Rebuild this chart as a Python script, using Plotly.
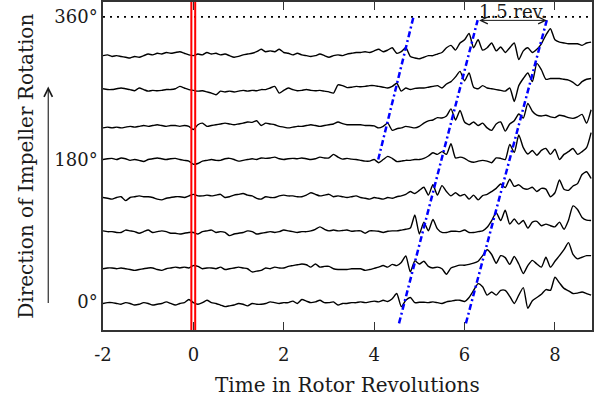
import plotly.graph_objects as go

# time axis in rotor revolutions (sampling grid of the digitised signals)
time = [-2.0, -1.9, -1.8, -1.7, -1.6, -1.5, -1.4, -1.3, -1.2, -1.1,
        -1.0, -0.9, -0.8, -0.7, -0.6, -0.5, -0.4, -0.3, -0.2, -0.1,
        0.0, 0.1, 0.2, 0.3, 0.4, 0.5, 0.6, 0.7, 0.8, 0.9,
        1.0, 1.1, 1.2, 1.3, 1.4, 1.5, 1.6, 1.7, 1.8, 1.9,
        2.0, 2.1, 2.2, 2.3, 2.4, 2.5, 2.6, 2.7, 2.8, 2.9,
        3.0, 3.1, 3.2, 3.3, 3.4, 3.5, 3.6, 3.7, 3.8, 3.9,
        4.0, 4.1, 4.2, 4.3, 4.4, 4.5, 4.6, 4.7, 4.8, 4.9,
        5.0, 5.1, 5.2, 5.3, 5.4, 5.5, 5.6, 5.7, 5.8, 5.9,
        6.0, 6.1, 6.2, 6.3, 6.4, 6.5, 6.6, 6.7, 6.8, 6.9,
        7.0, 7.1, 7.2, 7.3, 7.4, 7.5, 7.6, 7.7, 7.8, 7.9,
        8.0, 8.1, 8.2, 8.3, 8.4, 8.5, 8.6, 8.7, 8.8]

# circumferential sensor positions (deg) and the signal offset of each
sensor_angle = [0, 45, 90, 135, 180, 225, 270, 315]
dc_offset = [-1.6, -2.8, -1.0, -2.9, -1.0, -5.1, -0.7, -3.9]

# signal deviations (scaled to degrees)
sig_0 = [0, 1, 1, 0, -1, 1, 0, -2, -1, 1, 0, -2, -1, 0, 2, 0, -2, 0, 1, 5,
         1, -1, 1, 4, 1, 0, -2, -4, -3, -2, 0, -1, -3, 0, -1, -1, 0, 2, 1, 0,
         1, 1, 3, 0, 5, 3, 1, 2, 4, 1, 1, 2, -2,
         0, 0, 1, 1, 2, 1, 2, 3, 2, 4, 2.5, 6, 12.5, -4, 4, 7.5, 1, 1.5, 1.5, 1,
         2, 1, 0, 2, 3, 4, 4, 2.5, 7.5, 16.5, 25, 21, 10.5, 14.5, 10.5, 16.5, 16.5, 9, 0, 10.5,
         20, -6, 3.5, 7.5, 11.5, 17.5, 16.5, 33, 26, 19, 16, 12.5, 13, 14.5, 12.5, 10.5]
sig_45 = [0, 1, 1, 0, 1, 0, -1, -2, -1, 0, 1, 1, -1, -2, 0, 1, 2, 1, 2, 1,
          4, 3, 0, 1, 1, 0, 2, -1, 0, 1, 2, 1, 0, -4, -3, -2, 1, 0, 2, 1,
          1, 3, 4, 5, 6, 5, 2, 6, 2, 3, 3, 0, -1,
          -1, -1, 0, 0, 0, -2, -1, 0.5, 2, 4, 2, 5.5, 4, 8, 16, -4, 10, 6, 9.5, 3,
          1, 2, 0, -7, 1, 3, 4.5, 4.5, 5.5, 7, 9.5, 16.5, 24, 18, 7, 16.5, 14, 5.5, 15.5, 6,
          -6, 4, 10.5, 6, 2, 14.5, 2, 9.5, 16.5, 24, 33, 18, 12.5, 14.5, 16.5, 16.5]
sig_90 = [1, 0, 0, -1, -1, 2, 1, 0, -2, 0, 2, -1, 0, 1, 0, -2, -2, -3, -2, -1,
          -1, -3, 0, 1, 2, -1, 0, -1, -5, -3, -2, -1, 1, 0, -3, -2, -1, 0, -1, 0,
          2, 1, 0, -1, 0, 0, 1, 3, 6, 3, 1, 2, 1,
          1.5, 2, 0.5, 1, 1, -2, 1, 1, 0.5, -1, 0.5, 1, 1, 2, 3, 4.5, 21, -3, 12, 1,
          15.5, 3.5, -1, -1, 0.5, 0.5, 0, 2, -1, -1, 0, 1, 5.5, 14, 24, 14, 27, 9.5, 16, 9.5,
          14, 4.5, 12, 13, 7.5, 9.5, 7.5, 6, 12, 3, 14.5, 32.5, 28, 18, 14.5, 14]
sig_135 = [0, -1, -2, 0, 1, -4, 0, 1, 2, 1, 1, 0, -2, -3, -1, 0, 1, 1, 0, 2,
           4, 2, 2, 3, 2, 3, 4, 0, 1, 3, 4, 5, 3, 2, -1, -2, 1, 0, 0, 2,
           3, 2, 2, 1, 1, 3, 6, 4, 2, 3, 4, 1, 2,
           1, 0, 1, 2, 0, -1, -2, 0, -1, -2, 0, -1, 1, 2, 4, 7.5, 5, 9, 13, 3,
           16, 3, 15, 7.5, 2, 6, 2, 4, -2, 3, -3, 2.5, 4, 7.5, 11.5, 17, 12.5, 23, 14, 16,
           11.5, 10.5, 13, 7.5, 11.5, 10.5, 1, 6, 22, 10.5, 9, 14.5, 17.5, 29, 32.5, 24]
sig_180 = [1, 2, 2.5, 1, 3, 2, 0, 1, 0, -1.5, 1, 2, 3, 2, 1, 2, 2.5, 1, 0, -1,
           -5, -4, -1, 0, 1, 0, 0, 2, 2.5, 1, -1, 0, 1, 2, 1, 3, 2.5, 3, 4, 2,
           1, 2, 2.5, 2, 3, 2, 1, 2, 4, 3, 3, 7.5, 4,
           1.5, 2.5, 1.5, 1, 0, -1, -1, 1, -3, 1, 5, 2.5, -1.5, -1, 0, 0, 1, 1, 2.5, 5.5,
           9.5, 7.5, 11, 7.5, 21, 3, 4, 2.5, -1, -2.5, -1, 0, -1, -3, 3, 2.5, 1, 20, 10, 32,
           16, 8, 12.5, 6.5, 12.5, 15, 7.5, 14, 1, 7.5, 11, 15, 7.5, 11, 16, 35]
sig_225 = [0, 1, 0, 1, 0, 1, 2, 1, 2, 3, 2, 3, 4, 3, 2, 3, 3, 2, 3, 2,
           -2, 4, 6, 2, 3, 4, 5, 6, 5, 4, 5, 6, 7.5, 7, 9, 3, 6, 5, 4, 2,
           1, 0, 1, 2, 2, 3, 4, 3, 2, 3, 4, 5, 7.5,
           5.5, 4, 4, 4, 4, 3, 3, 2.5, 0, 2, 6, -3, -1, 0, 2, 1, 0, 2, 6, 9,
           10, 13, 12.5, 15, 24, 10, 22, 7.5, 4, 7.5, 3, 6, 0, -3, 5, 7.5, -4, 5, 9, 17.5,
           12.5, 31, 21, 16, 15, 16, 14, 13, 16, 15, 13, 12, 14, 17, 6, 23]
sig_270 = [0, -1, -1, 0, 1, 0, -1, -2.5, 1, -1, -3, -2, -2.5, -2, -1, -1, 0, 3, 1, -1,
           -2, -3, -2.5, -4, -5.5, -7.5, -3, -4, -3, -4, -3, -2, -3, -2, -2.5, -1, -1, 1, 3, -5.5,
           -2, 1, -1, -2.5, -2, -1, -2, -2.5, -2, -3, -4, -5.5, 5,
           4, 1.5, 2, 3, 2.5, 3, 4, 4, 3, 2, 1, 3, 7, -3, 1, -1, 0.5, 1, 1, 2,
           3, 4, 1, 6, 9, 15, 22, 10, 20, 2, 0, 4, 1, 0, -1, -2, -3, 1, -16, 4,
           13, 20, 9, 32, 24, 12, 13, 13, 13, 12, 11, 8, 4, 9, 12, 13]
sig_315 = [0, 1, -1, 0, -1, -2, -3, -1, -2, 0, 2, 1, 3, 2, 4, 3, 4, 5, 3, 1,
           0, 2, 1, 4, 2, 3, 1, 2, 0, -2, -1, 1, 2, 3, 5, 8, 5, 6, 5, 8,
           4, 3, 1, 3, 1, 0, -1, 0, 2, 0, -2, 0, 1,
           0, 2, 3, 4, 4, 5, 4, 6, 8, 5, 7, 10, 3, 5, 10, -1, -3, -4, -2, 0,
           0, 2, 4, 10, 13, 7, 16, 20, 28, 10, 20, 7, 10, 16, 6, 11, 4, 10, 16, -5,
           6, 10, 4, 8, 15, 26, 34, 20, 17, 16, 15, 15, 15, 13, 16, 17]
signals = [sig_0, sig_45, sig_90, sig_135, sig_180, sig_225, sig_270, sig_315]

# red markers (time of event) and full revolution reference
event_time = [-0.045, 0.04]
full_rev = 360

# propagation lines of the disturbance (start / end points)
wave_x0 = [4.09, 4.55, 6.03]
wave_y0 = [180, -26.7, -26.7]
wave_x1 = [4.87, 6.29, 7.82]
wave_y1 = [360, 356, 356]

# "1.5 rev." annotation
rev_x0, rev_x1, rev_y = 6.29, 7.82, 355.6
rev_label = "1.5 rev."

x_ticks = [-2, 0, 2, 4, 6, 8]
x_ticktext = ["-2", "0", "2", "4", "6", "8"]
y_ticks = [0, 180, 360]
y_ticktext = ["0°", "180°", "360°"]

FONT = "DejaVu Serif"
INK = "#1a1a1a"

fig = go.Figure()

for ang, off, sig in zip(sensor_angle, dc_offset, signals):
    fig.add_trace(go.Scatter(
        x=time, y=[ang + off + v for v in sig], mode="lines",
        line=dict(color="black", width=1.4, shape="spline", smoothing=0.6),
        showlegend=False, hoverinfo="skip"))

fig.add_trace(go.Scatter(
    x=[time[0], time[-1]], y=[full_rev, full_rev], mode="lines",
    line=dict(color="black", width=1.6, dash="2px,5px"),
    showlegend=False, hoverinfo="skip"))

for xa, ya, xb, yb in zip(wave_x0, wave_y0, wave_x1, wave_y1):
    fig.add_trace(go.Scatter(
        x=[xa, xb], y=[ya, yb], mode="lines",
        line=dict(color="#0000ff", width=2.5, dash="6px,3px,2px,3px"),
        showlegend=False, hoverinfo="skip"))

for xv in event_time:
    fig.add_vline(x=xv, line=dict(color="#ff0000", width=2))

# double arrow for 1.5 rev.
fig.add_annotation(x=rev_x1, y=rev_y, ax=rev_x0, ay=rev_y, axref="x", ayref="y",
                   xref="x", yref="y", text="", showarrow=True,
                   arrowside="end+start", arrowhead=5, startarrowhead=5,
                   arrowsize=1.4, startarrowsize=1.4, arrowwidth=1,
                   arrowcolor=INK, standoff=0, startstandoff=0)
fig.add_annotation(x=(rev_x0 + rev_x1) / 2, y=rev_y, yshift=9, xref="x", yref="y",
                   text=rev_label, showarrow=False, borderpad=0,
                   font=dict(family=FONT, size=18, color=INK))

# axis titles
fig.add_annotation(x=0.5, y=-0.167, xref="paper", yref="paper",
                   text="Time in Rotor Revolutions", showarrow=False,
                   xanchor="center", yanchor="middle",
                   font=dict(family=FONT, size=20, color=INK))
fig.add_annotation(x=-0.158, y=0.5, xref="paper", yref="paper",
                   text="Direction of Impeller Rotation", showarrow=False,
                   textangle=-90, xanchor="center", yanchor="middle",
                   font=dict(family=FONT, size=20, color=INK))
# direction arrow (tail 218 px below the tip)
fig.add_annotation(x=-0.112, y=0.742, ax=0, ay=218,
                   xref="paper", yref="paper",
                   text="", showarrow=True, arrowhead=5, arrowsize=1.5,
                   arrowwidth=1.1, arrowcolor=INK, standoff=0)

fig.update_xaxes(range=[-2, 8.82], tickvals=x_ticks, ticktext=x_ticktext,
                 ticks="inside", ticklen=8, tickwidth=1.3, tickcolor="#333",
                 showline=True, linecolor="#333", linewidth=1.5, mirror="ticks",
                 showgrid=False, zeroline=False, ticklabelstandoff=8,
                 tickfont=dict(family=FONT, size=18, color=INK))
fig.update_yaxes(range=[-35.1, 378.8], tickvals=y_ticks, ticktext=y_ticktext,
                 ticks="", showline=True, linecolor="#333", linewidth=1.5,
                 mirror=True, showgrid=False, zeroline=False,
                 tickfont=dict(family=FONT, size=18, color=INK))

fig.update_layout(width=595, height=402,
                  margin=dict(l=103, r=3, t=0, b=72),
                  paper_bgcolor="white", plot_bgcolor="white",
                  showlegend=False)

fig.write_html("out.html")
